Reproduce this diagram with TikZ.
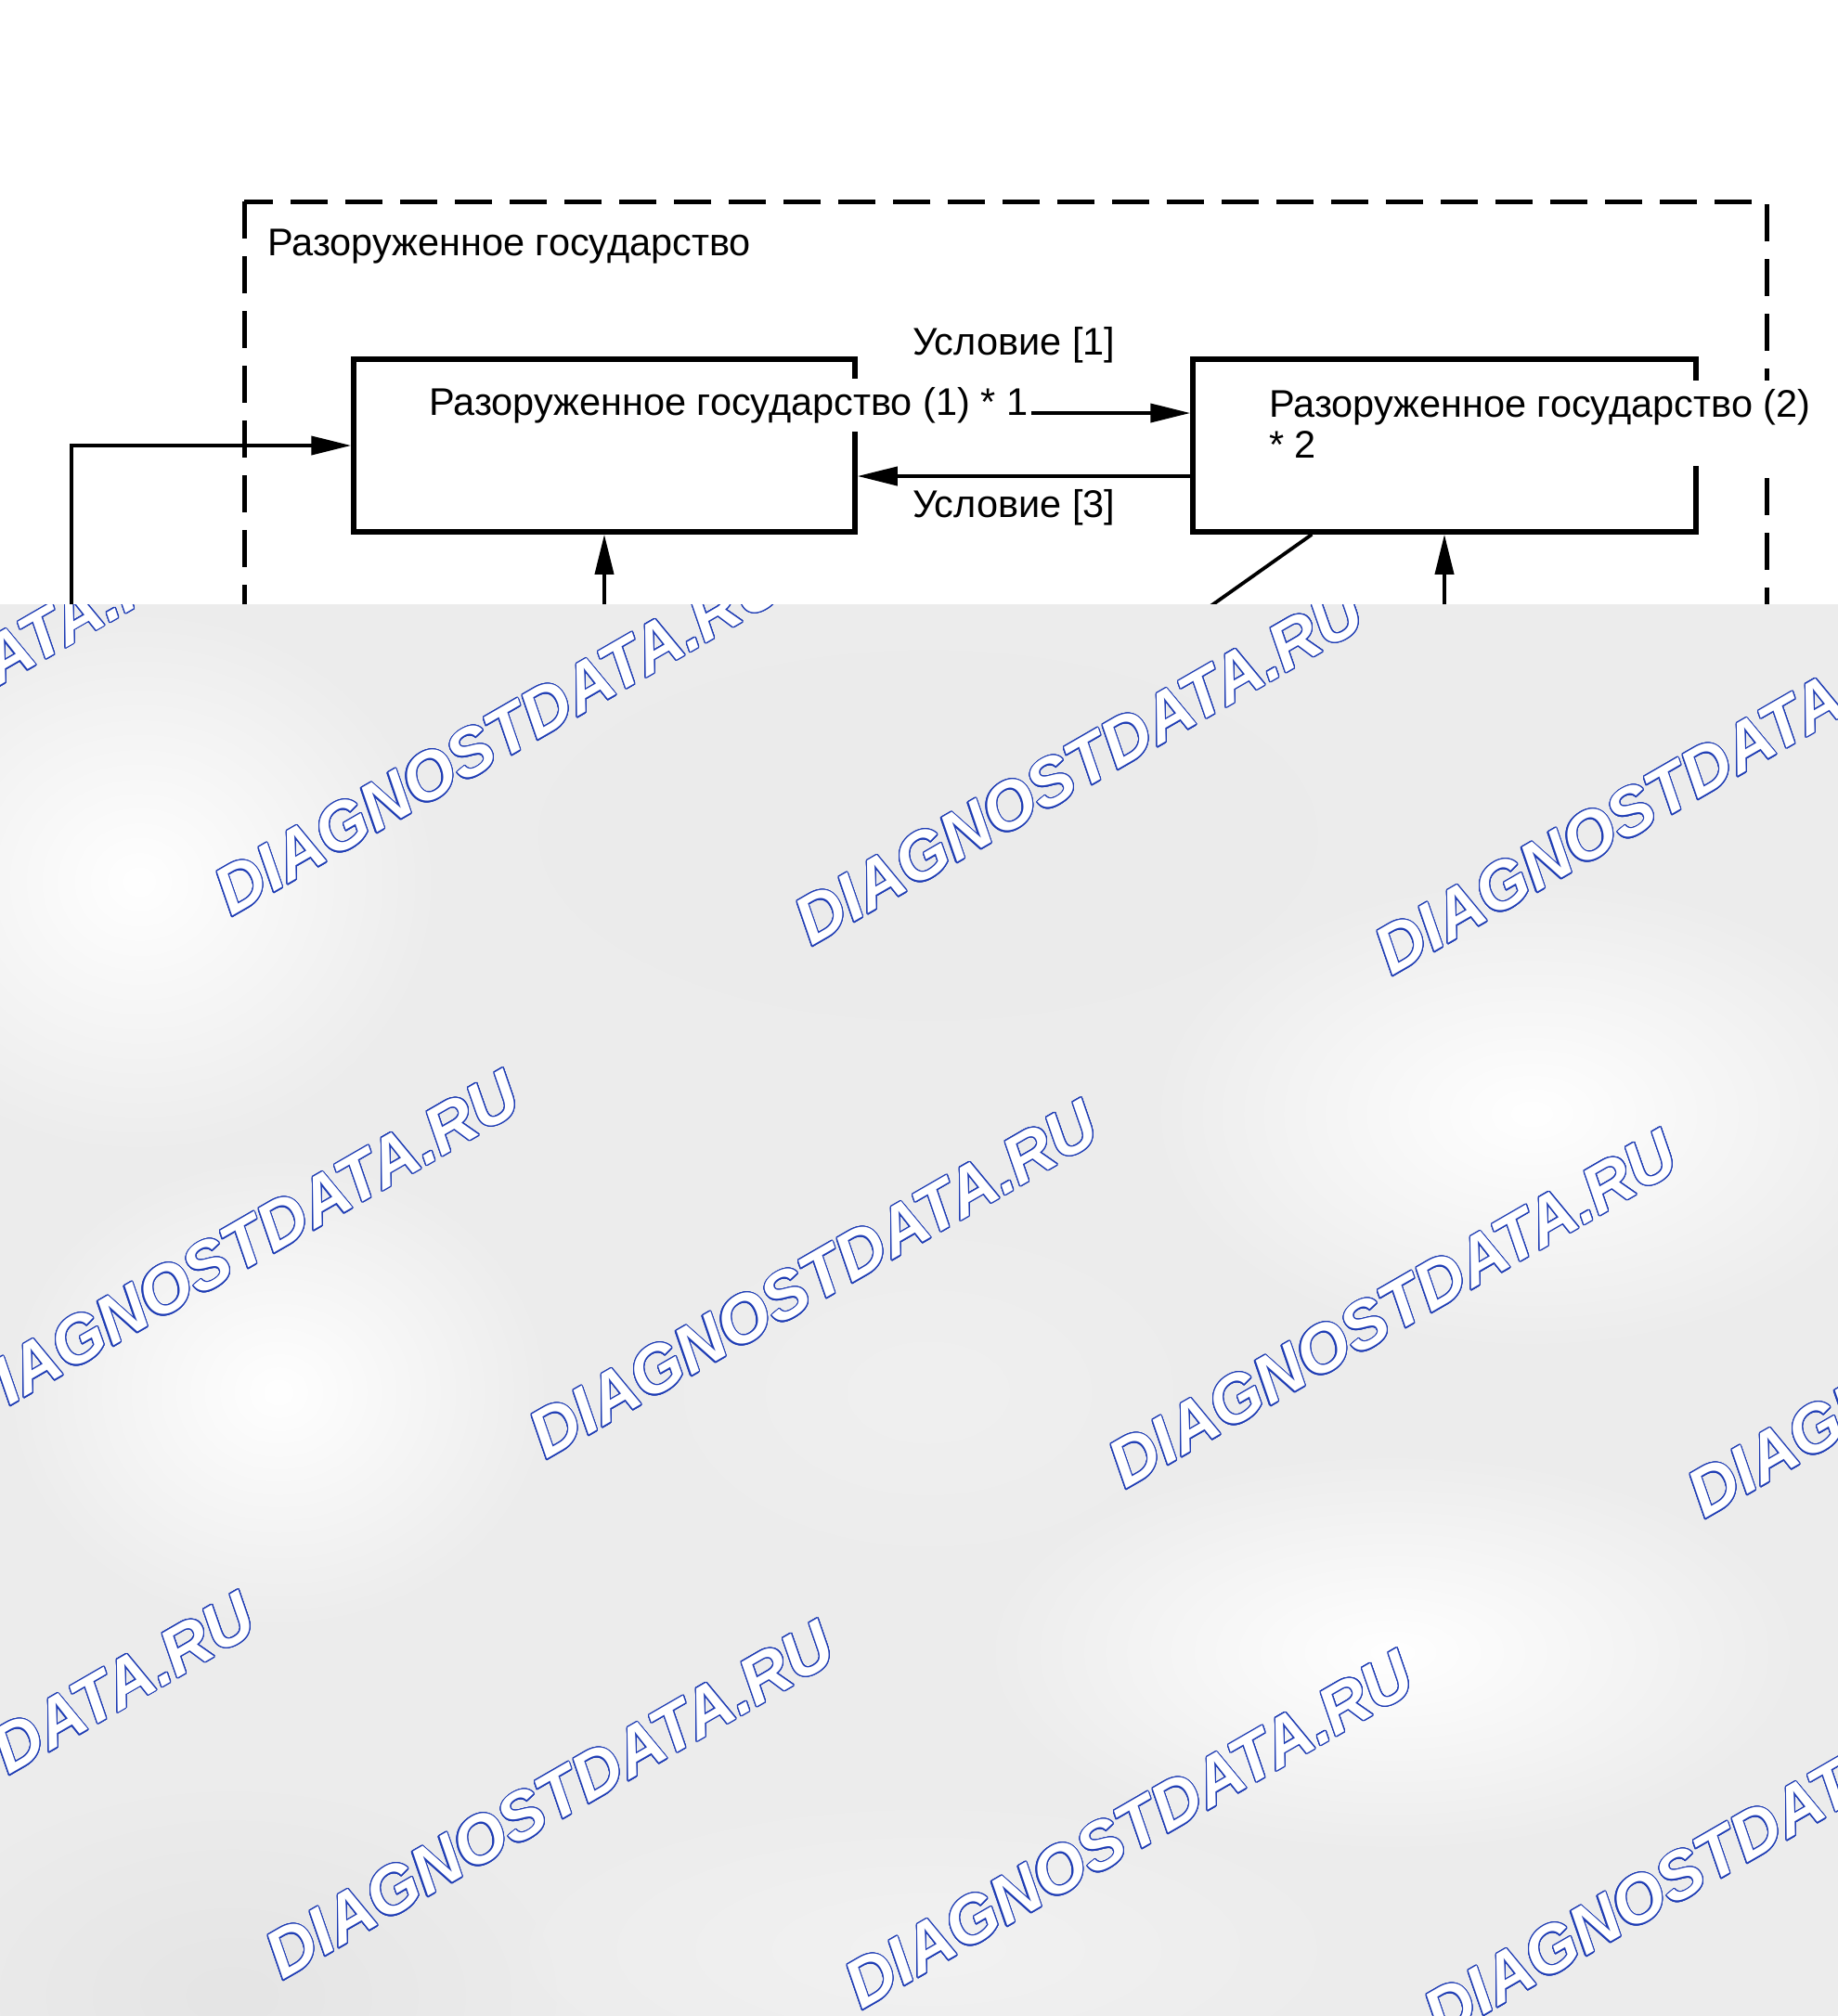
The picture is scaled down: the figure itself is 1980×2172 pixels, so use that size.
\documentclass[tikz,border=0pt]{standalone}
\usepackage{fontspec}
\setmainfont{Liberation Sans}
\usepackage[copies]{contour}
\contourlength{1.15pt}
\contournumber{24}
\usetikzlibrary{arrows.meta,fadings}
\definecolor{wmblue}{RGB}{30,60,180}
\definecolor{bgbase}{RGB}{236,236,236}
\tikzfading[name=blobfade, inner color=transparent!0, outer color=transparent!100]
\tikzset{
  lbl/.style={font=\fontsize{41.5pt}{44pt}\selectfont, inner sep=0pt, anchor=base west},
  masklbl/.style={lbl, fill=white, inner xsep=3pt, inner ysep=9pt, align=left},
  statebox/.style={draw, line width=5.5pt, rectangle, inner sep=0pt},
  conn/.style={line width=3.8pt, -{Triangle[length=43pt,width=20pt]}},
  plainconn/.style={line width=3.8pt},
  frame/.style={line width=5pt, dash pattern=on 40pt off 19pt},
  wm/.style={font=\fontsize{72pt}{80pt}\selectfont\bfseries\itshape, inner sep=0pt, anchor=base west, rotate=30, text=white},
  blob/.style={path fading=blobfade}
}
\begin{document}
\begin{tikzpicture}[x=1pt,y=-1pt]
\useasboundingbox (0,0) rectangle (1980,2172);
\fill[white] (0,0) rectangle (1980,2172);

% outer dashed frame
\draw[frame] (263,217) rectangle (1903,1100);
\node[lbl] (title) at (288,275) {Разоруженное государство};

% state boxes
\node[statebox, minimum width=540pt, minimum height=186pt] (b1) at (651,480) {};
\node[statebox, minimum width=542pt, minimum height=186pt] (b2) at (1556,480) {};

% helper coordinates
\coordinate (r1) at (1100,445);
\coordinate (r3) at (1100,513);
\coordinate (fb) at (77,1000);
\coordinate (in1) at (651,1000);
\coordinate (in2) at (1556,1000);
\coordinate (d2) at (955,900);

% connectors
\draw[conn] (b1.east |- r1) -- (b2.west |- r1);
\draw[conn] (b2.west |- r3) -- (b1.east |- r3);
\draw[conn] (fb) |- (b1.west);
\draw[conn] (in1) -- (b1.south);
\draw[conn] (in2) -- (b2.south);
\draw[plainconn] ([xshift=131pt]b2.south west) -- (d2);

% labels
\node[masklbl] (t1) at (459,447) {Разоруженное государство (1) * 1};
\node[masklbl] (t2) at (1364,493) {Разоруженное государство (2)\\* 2};
\node[lbl] (c1) at (983,382) {Условие [1]};
\node[lbl] (c3) at (983,557) {Условие [3]};

% watermark overlay
\fill[bgbase] (0,651) rectangle (1980,2172);
\begin{scope}
\clip (0,651) rectangle (1980,2172);
\fill[white, blob] (150,950) ellipse (330pt and 300pt);
\fill[white, blob] (1650,1200) ellipse (420pt and 260pt);
\fill[white, blob] (1500,1780) ellipse (450pt and 220pt);
\fill[white, blob] (300,1500) ellipse (300pt and 260pt);
\fill[black!8, blob] (1000,900) ellipse (420pt and 200pt);
\fill[black!6, blob] (1000,1500) ellipse (350pt and 220pt);
\fill[black!10, blob] (250,2150) ellipse (350pt and 220pt);
\fill[black!5, blob] (1000,2100) ellipse (500pt and 180pt);
\foreach \bx/\by [count=\i] in {-376/956, 249/988, 874/1020, 1499/1052,
                     -35/1541, 588/1573, 1212/1605, 1836/1637,
                     -320/2103, 304/2134, 928/2166, 1552/2198}{
  \node[wm] (wm\i) at (\bx,\by) {\contour{wmblue}{DIAGNOSTDATA.RU}};
}
\end{scope}
\end{tikzpicture}
\end{document}
